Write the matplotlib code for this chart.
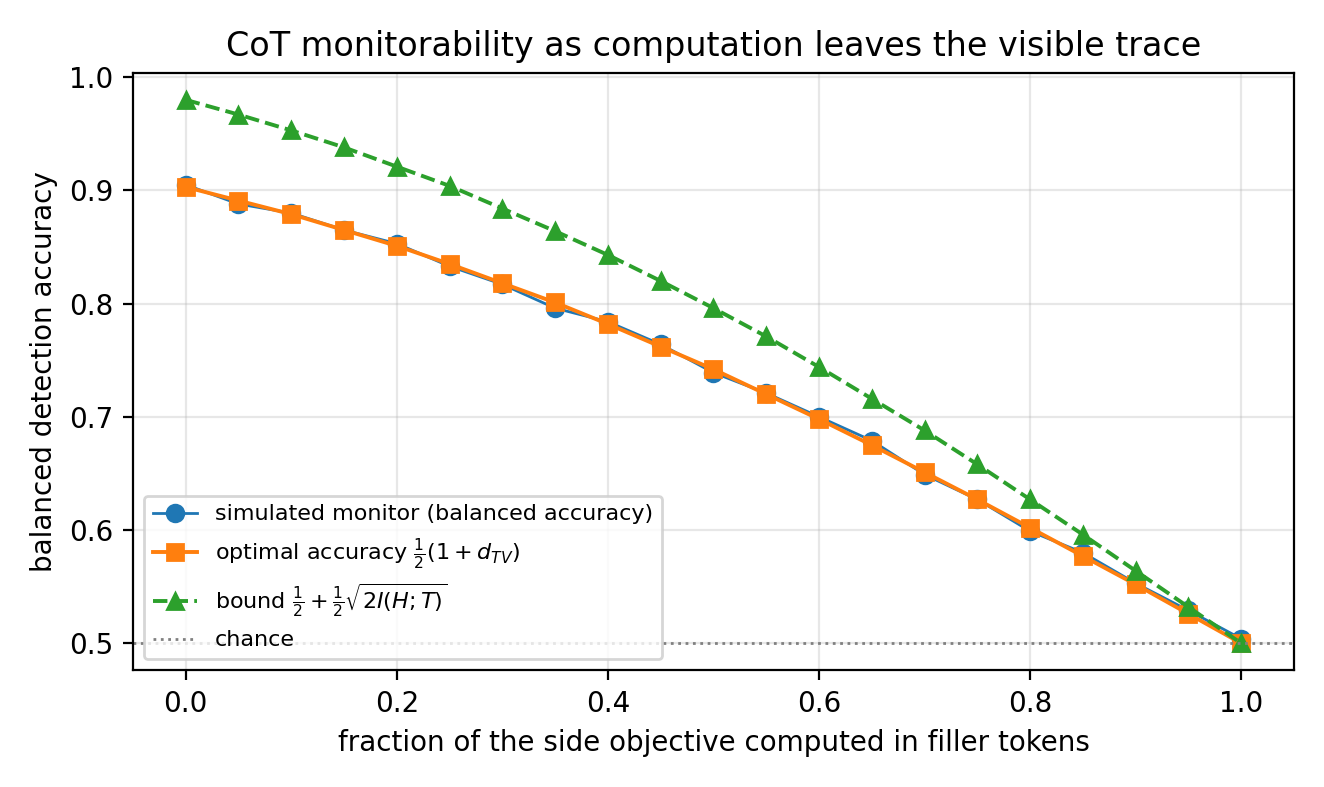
import matplotlib

matplotlib.use("Agg")

import matplotlib.pyplot as plt

frac = [0.0, 0.05, 0.1, 0.15, 0.2, 0.25, 0.3, 0.35, 0.4, 0.45, 0.5,
        0.55, 0.6, 0.65, 0.7, 0.75, 0.8, 0.85, 0.9, 0.95, 1.0]
simulated = [0.905, 0.888, 0.880, 0.865, 0.853, 0.833, 0.817, 0.796, 0.784, 0.764, 0.739,
             0.721, 0.700, 0.679, 0.649, 0.627, 0.599, 0.580, 0.553, 0.529, 0.504]
optimal = [0.903, 0.891, 0.879, 0.865, 0.851, 0.835, 0.818, 0.801, 0.782, 0.762, 0.742,
           0.720, 0.698, 0.675, 0.651, 0.627, 0.602, 0.577, 0.552, 0.526, 0.500]
bound = [0.980, 0.967, 0.953, 0.938, 0.921, 0.904, 0.884, 0.864, 0.843, 0.820, 0.796,
         0.771, 0.744, 0.716, 0.688, 0.658, 0.627, 0.596, 0.564, 0.532, 0.500]
chance = 0.5

fig, ax = plt.subplots(figsize=(6.62, 3.935), dpi=200)
ax.plot(frac, simulated, marker="o", color="#1f77b4", linewidth=1.0, markersize=6,
        label="simulated monitor (balanced accuracy)")
ax.plot(frac, optimal, marker="s", color="#ff7f0e", linewidth=1.4, markersize=6,
        label=r"optimal accuracy $\frac{1}{2}(1+d_{TV})$")
ax.plot(frac, bound, marker="^", linestyle="--", color="#2ca02c", linewidth=1.4, markersize=6,
        label=r"bound $\frac{1}{2}+\frac{1}{2}\sqrt{2I(H;T)}$")
ax.axhline(chance, color="gray", linestyle=":", linewidth=1, label="chance")

ax.set_xlabel("fraction of the side objective computed in filler tokens", fontsize=10)
ax.set_ylabel("balanced detection accuracy", fontsize=10)
ax.set_title("CoT monitorability as computation leaves the visible trace", fontsize=12)
ax.tick_params(labelsize=10)
ax.grid(True, alpha=0.3)
ax.legend(loc="lower left", fontsize=8)

fig.tight_layout()
fig.savefig("out.png", dpi=200)
